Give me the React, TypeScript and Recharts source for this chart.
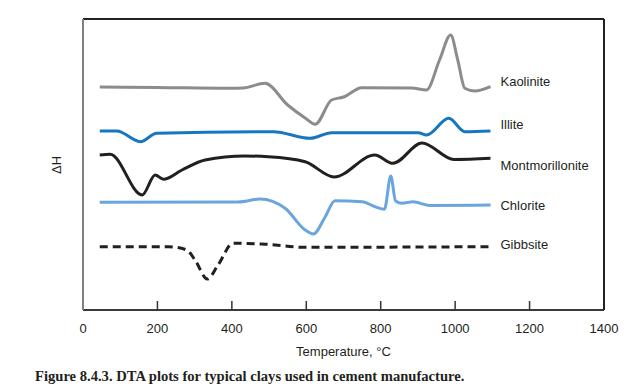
import { LineChart, Line, XAxis, YAxis } from 'recharts';

// Temperature (°C) and relative ΔH readings (arbitrary units)
const kaolinite: [number, number][] = [
  [45, 223], [200, 222.5], [390, 221.7], [430, 222], [489, 226.7], [550, 205],
  [597, 192], [624, 185.7], [668, 210], [700, 213], [749, 222.3], [883, 222],
  [923, 220], [958, 250], [988, 275], [1007, 250], [1026, 221.7], [1053, 219],
  [1095, 223.3],
];
const illite: [number, number][] = [
  [45, 179], [91, 179], [154, 168.3], [198, 176.7], [512, 178.3], [610, 171.7],
  [668, 177.3], [901, 177.3], [923, 175], [983, 191.7], [1026, 178.3], [1095, 179],
];
const montmorillonite: [number, number][] = [
  [45, 155], [73, 155.7], [159, 115], [194, 135], [216, 130.7], [266, 140],
  [328, 150], [435, 154], [498, 153.3], [597, 148.3], [675, 133], [784, 155],
  [833, 146.7], [911, 167], [997, 150.5], [1095, 151.7],
];
const chlorite: [number, number][] = [
  [45, 107.7], [417, 108], [476, 111], [543, 101.7], [597, 80], [619, 76],
  [651, 93.3], [677, 109.3], [750, 108.3], [785, 103.3], [810, 100.7],
  [827, 134], [840, 109], [857, 106.7], [887, 108.3], [932, 104.5], [1095, 105],
];
const gibbsite: [number, number][] = [
  [45, 63.3], [229, 63.3], [279, 60], [301, 50], [334, 31], [363, 45],
  [403, 66.7], [481, 66], [597, 62.7], [1095, 63.3],
];

const xTicks = [0, 200, 400, 600, 800, 1000, 1200, 1400];

const TEXT = '#231f20';
const FONT = '"Liberation Sans", Arial, sans-serif';

const series = [
  { name: 'Kaolinite', points: kaolinite, color: '#8c8c8c', dy: -5, dash: undefined },
  { name: 'Illite', points: illite, color: '#1677c0', dy: -7, dash: undefined },
  { name: 'Montmorillonite', points: montmorillonite, color: TEXT, dy: 7, dash: undefined },
  { name: 'Chlorite', points: chlorite, color: '#6aa6dd', dy: 0, dash: undefined },
  { name: 'Gibbsite', points: gibbsite, color: TEXT, dy: -2, dash: '8 5' },
];

export default function App() {
  return (
    <div style={{ position: 'absolute', left: 0, top: 0, width: 637, height: 391, background: '#fff' }}>
      <LineChart
        width={637}
        height={391}
        margin={{ top: 18, right: 32, left: 82, bottom: 33 }}
      >
        <XAxis
          type="number"
          dataKey="t"
          domain={[0, 1400]}
          ticks={xTicks}
          allowDataOverflow
          height={48}
          stroke="#3a3a3a"
          strokeWidth={2}
          tickSize={-9}
          tickMargin={22.5}
          tickLine={{ stroke: '#333', strokeWidth: 1.5 }}
          tick={{ fill: TEXT, fontSize: 13, fontFamily: FONT }}
          label={{ value: 'Temperature, °C', position: 'insideBottom', offset: 2, fill: TEXT, fontSize: 13, fontFamily: FONT }}
        />
        {/* frame: top and right edges */}
        <XAxis
          xAxisId="top"
          orientation="top"
          type="number"
          domain={[0, 1400]}
          height={1}
          tick={false}
          tickLine={false}
          stroke="#222"
          strokeWidth={2}
        />
        <YAxis
          type="number"
          domain={[0, 291]}
          width={1}
          tick={false}
          tickLine={false}
          stroke="#808080"
          strokeWidth={2}
        />
        <YAxis
          yAxisId="right"
          orientation="right"
          type="number"
          domain={[0, 291]}
          width={1}
          tick={false}
          tickLine={false}
          stroke="#222"
          strokeWidth={2}
        />
        {series.map(s => {
          const data = s.points.map(([t, v]) => ({ t, v }));
          const last = data.length - 1;
          return (
            <Line
              key={s.name}
              data={data}
              dataKey="v"
              type="monotone"
              stroke={s.color}
              strokeWidth={3}
              strokeDasharray={s.dash}
              dot={false}
              activeDot={false}
              isAnimationActive={false}
              label={(p: any) =>
                p.index === last ? (
                  <text
                    key={s.name}
                    x={p.x + 10}
                    y={p.y + s.dy}
                    dominantBaseline="central"
                    fill={TEXT}
                    fontSize={13}
                    fontFamily={FONT}
                  >
                    {s.name}
                  </text>
                ) : null
              }
            />
          );
        })}
      </LineChart>
      <div
        style={{
          position: 'absolute', left: 56, top: 165, transform: 'translate(-50%, -50%) rotate(-90deg)',
          fontFamily: FONT, fontSize: 13, color: TEXT, lineHeight: '15px',
        }}
      >
        ΔH
      </div>
      <div
        style={{
          position: 'absolute', left: 35, top: 368, fontFamily: '"Liberation Serif", "Times New Roman", serif',
          fontWeight: 'bold', fontSize: 14.6, color: TEXT, lineHeight: '17px', whiteSpace: 'nowrap',
        }}
      >
        Figure 8.4.3. DTA plots for typical clays used in cement manufacture.
      </div>
    </div>
  );
}
